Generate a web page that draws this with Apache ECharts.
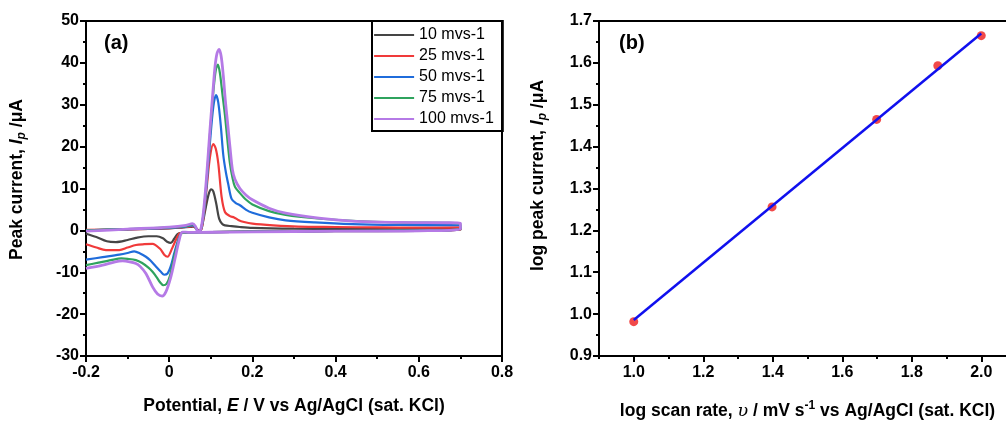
<!DOCTYPE html>
<html><head><meta charset="utf-8">
<script src="https://cdn.jsdelivr.net/npm/echarts@6/dist/echarts.min.js"></script>
<style>html,body{margin:0;padding:0;background:#fff}#c{width:1006px;height:421px}</style>
</head><body><div id="c"></div>
<script>
const legendNames = ['10 mvs-1', '25 mvs-1', '50 mvs-1', '75 mvs-1', '100 mvs-1'];

// CV curves: [potential E (V), current (µA)], forward scan then reverse scan
const cv10 = [[-0.2,0.0],[-0.15,0.1],[-0.1,0.2],[-0.05,0.35],[0.0,0.5],[0.03,0.65],[0.05,0.8],[0.057,0.9],[0.064,0.6],[0.071,0.0],[0.077,0.2],[0.082,2.4],[0.09,6.5],[0.096,9.0],[0.101,9.8],[0.106,9.3],[0.113,6.4],[0.12,2.8],[0.127,1.6],[0.134,1.2],[0.15,1.0],[0.17,0.8],[0.2,0.6],[0.3,0.4],[0.4,0.35],[0.5,0.35],[0.6,0.4],[0.7,0.5],
  [0.7,0.1],[0.6,-0.1],[0.4,-0.2],[0.2,-0.3],[0.1,-0.4],[0.05,-0.5],[0.03,-0.6],[0.02,-0.9],[0.012,-2.0],[0.004,-3.0],[-0.005,-2.7],[-0.015,-1.9],[-0.03,-1.4],[-0.05,-1.4],[-0.08,-1.8],[-0.1,-2.3],[-0.128,-2.8],[-0.15,-2.6],[-0.175,-1.6],[-0.2,-0.8]];
const cv25 = [[-0.2,0.1],[-0.1,0.25],[0.0,0.55],[0.04,0.8],[0.055,1.0],[0.062,0.8],[0.07,0.0],[0.077,0.2],[0.083,3.5],[0.09,10],[0.098,17.5],[0.106,20.6],[0.112,19.5],[0.118,16],[0.126,8],[0.134,4.4],[0.146,3.4],[0.156,3.1],[0.166,2.5],[0.18,2.0],[0.2,1.6],[0.25,1.2],[0.31,0.9],[0.4,0.8],[0.5,0.7],[0.6,0.65],[0.7,0.7],
  [0.7,0.2],[0.6,0.0],[0.4,-0.15],[0.2,-0.3],[0.1,-0.4],[0.05,-0.5],[0.03,-0.6],[0.024,-0.8],[0.015,-2.5],[0.007,-4.3],[-0.004,-6.3],[-0.012,-5.8],[-0.022,-4.4],[-0.04,-3.2],[-0.06,-3.3],[-0.08,-3.5],[-0.1,-4.1],[-0.12,-4.7],[-0.152,-4.7],[-0.175,-4.1],[-0.2,-3.3]];
const cv50 = [[-0.2,0.0],[-0.1,0.3],[0.0,0.6],[0.04,0.9],[0.055,1.2],[0.062,0.9],[0.069,-0.1],[0.076,0.2],[0.083,4],[0.09,11],[0.098,21],[0.106,29.5],[0.1125,32.3],[0.118,30.5],[0.124,25],[0.13,18],[0.136,14],[0.142,11],[0.15,7.5],[0.16,6.5],[0.17,6.0],[0.185,4.9],[0.2,4.2],[0.24,3.1],[0.28,2.4],[0.35,1.9],[0.44,1.5],[0.55,1.3],[0.7,1.2],
  [0.7,0.3],[0.6,0.0],[0.4,-0.15],[0.2,-0.3],[0.1,-0.4],[0.05,-0.5],[0.034,-0.5],[0.028,-0.8],[0.02,-2.8],[0.012,-5.5],[0.004,-8.5],[-0.004,-10.3],[-0.012,-10.6],[-0.02,-9.9],[-0.033,-8.5],[-0.045,-7.2],[-0.056,-6.3],[-0.07,-5.5],[-0.084,-5.0],[-0.1,-5.4],[-0.12,-5.8],[-0.16,-6.4],[-0.2,-7.0]];
const cv75 = [[-0.2,0.0],[-0.1,0.3],[0.0,0.7],[0.04,1.0],[0.055,1.4],[0.062,1.0],[0.069,-0.2],[0.076,0.2],[0.083,4.5],[0.09,12],[0.098,23],[0.106,33],[0.112,38.3],[0.117,39.6],[0.122,37.5],[0.128,32.5],[0.134,27.5],[0.14,21.5],[0.146,16],[0.152,12.6],[0.158,10.4],[0.17,8.9],[0.185,7.3],[0.2,6.2],[0.24,4.6],[0.28,3.7],[0.35,2.9],[0.44,2.3],[0.55,1.9],[0.7,1.6],
  [0.7,0.3],[0.6,0.0],[0.4,-0.15],[0.2,-0.3],[0.1,-0.4],[0.05,-0.5],[0.032,-0.6],[0.026,-1.2],[0.018,-4.0],[0.01,-7.1],[0.002,-10.8],[-0.006,-12.7],[-0.014,-13.1],[-0.022,-12.4],[-0.03,-11.2],[-0.04,-9.9],[-0.05,-8.9],[-0.065,-7.8],[-0.08,-7.1],[-0.1,-6.8],[-0.115,-6.7],[-0.14,-7.1],[-0.17,-7.7],[-0.2,-8.3]];
const cv100 = [[-0.2,-0.2],[-0.1,0.3],[0.0,0.8],[0.04,1.2],[0.056,1.6],[0.063,1.0],[0.069,-0.3],[0.076,0.3],[0.083,5],[0.09,13],[0.098,24],[0.105,33],[0.11,39],[0.115,42.3],[0.12,43.2],[0.125,41.5],[0.13,37],[0.135,31],[0.14,26],[0.146,20],[0.152,14.5],[0.158,12.2],[0.17,10],[0.185,8.4],[0.2,7.3],[0.24,5.3],[0.28,4.1],[0.36,2.9],[0.44,2.2],[0.55,1.9],[0.7,1.7],
  [0.7,0.3],[0.6,-0.1],[0.4,-0.2],[0.2,-0.35],[0.1,-0.45],[0.05,-0.5],[0.032,-0.4],[0.024,-2.3],[0.015,-6.3],[0.004,-11.1],[-0.008,-14.7],[-0.017,-15.7],[-0.028,-15.2],[-0.04,-13.5],[-0.056,-10.3],[-0.07,-8.6],[-0.08,-7.9],[-0.095,-7.5],[-0.112,-7.3],[-0.13,-7.5],[-0.16,-8.3],[-0.2,-9.1]];

// Panel (b)
const logRate = [1.0, 1.398, 1.699, 1.875, 2.0];
const logPeak = [0.982, 1.256, 1.465, 1.593, 1.665];
const fitX = [1.0, 2.0];
const fitY = [0.986, 1.670];
const bMajorTicks = [1.0, 1.2, 1.4, 1.6, 1.8, 2.0];
const bMinorTicks = [0.9, 1.1, 1.3, 1.5, 1.7, 1.9, 2.1];

const cvSeriesData = [cv10, cv25, cv50, cv75, cv100];
const cvColors = ['#454545', '#f03a3a', '#1f6cdb', '#2fa35e', '#b57ae6'];
const cvWidths = [2.2, 2.2, 2.2, 2.2, 2.8];

const FONT = '"Liberation Sans", Arial, sans-serif';
const black = '#000';
const lineS = { color: black, width: 2 };
const tickLab = { color: black, fontWeight: 'bold', fontSize: 16, fontFamily: FONT };
const TF = 17.5;
const richBase = {
  n: { fontSize: TF, fontWeight: 'bold', fontFamily: FONT, color: black, lineHeight: 22 },
  i: { fontSize: TF, fontWeight: 'bold', fontStyle: 'italic', fontFamily: FONT, color: black, lineHeight: 22 },
  s: { fontSize: 12, fontWeight: 'bold', fontStyle: 'italic', fontFamily: FONT, color: black, verticalAlign: 'bottom', lineHeight: 18 },
  sup: { fontSize: 12, fontWeight: 'bold', fontFamily: FONT, color: black, verticalAlign: 'top', lineHeight: 15 },
  u: { fontSize: TF, fontStyle: 'italic', fontFamily: '"DejaVu Serif", serif', color: black, lineHeight: 22 }
};

const chart = echarts.init(document.getElementById('c'), null, { renderer: 'canvas' });

const series = cvSeriesData.map((d, k) => ({
  name: legendNames[k], type: 'line', xAxisIndex: 0, yAxisIndex: 0,
  data: d, symbol: 'none', smooth: 0.3, color: cvColors[k],
  lineStyle: { color: cvColors[k], width: cvWidths[k] }, z: 2 + k
}));
series.push({
  name: 'data', type: 'scatter', xAxisIndex: 1, yAxisIndex: 1,
  data: logRate.map((x, k) => [x, logPeak[k]]), symbol: 'circle', symbolSize: 9,
  itemStyle: { color: '#ee1c1c' }, z: 3
});
series.push({
  name: 'fit', type: 'line', xAxisIndex: 1, yAxisIndex: 1,
  data: fitX.map((x, k) => [x, fitY[k]]), symbol: 'none',
  lineStyle: { color: '#1010ee', width: 2.5 }, z: 4
});

chart.setOption({
  animation: false,
  backgroundColor: '#fff',
  grid: [
    { left: 86, top: 21, width: 416, height: 335, show: true, borderColor: black, borderWidth: 2, backgroundColor: 'transparent', outerBoundsMode: 'none', containLabel: false },
    { left: 599, top: 21, width: 417, height: 335, show: true, borderColor: black, borderWidth: 2, backgroundColor: 'transparent', outerBoundsMode: 'none', containLabel: false }
  ],
  legend: {
    data: legendNames, orient: 'vertical', left: 372, top: 21,
    itemWidth: 40, itemHeight: 16, itemGap: 5,
    padding: [6, 9, 4, 1], borderColor: black, borderWidth: 2,
    itemStyle: { opacity: 0 },
    lineStyle: { width: 2.2 },
    textStyle: { fontSize: 16, color: black, fontFamily: FONT }
  },
  xAxis: [
    {
      gridIndex: 0, type: 'value', min: -0.2, max: 0.8, interval: 0.2, position: 'bottom',
      axisLine: { onZero: false, lineStyle: lineS },
      axisTick: { length: 6, lineStyle: lineS },
      minorTick: { show: true, splitNumber: 2, length: 3, lineStyle: lineS },
      splitLine: { show: false }, minorSplitLine: { show: false },
      axisLabel: Object.assign({ margin: 9 }, tickLab),
      name: '{n|Potential, }{i|E}{n| / V vs Ag/AgCl (sat. KCl)}',
      nameLocation: 'middle', nameGap: 39,
      nameTextStyle: { rich: richBase }
    },
    {
      gridIndex: 1, type: 'value', min: 0.9, max: 2.1, interval: 0.1, position: 'bottom',
      axisLine: { onZero: false, lineStyle: lineS },
      axisTick: { length: 6, lineStyle: lineS, customValues: bMajorTicks },
      splitLine: { show: false },
      axisLabel: Object.assign({ margin: 9, customValues: bMajorTicks, formatter: v => v.toFixed(1) }, tickLab),
      name: '{n|log scan rate, }{u|υ}{n| / mV s}{sup|-1}{n| vs Ag/AgCl (sat. KCl)}',
      nameLocation: 'middle', nameGap: 44,
      nameTextStyle: { rich: richBase }
    },
    {
      gridIndex: 1, type: 'value', min: 0.9, max: 2.1, interval: 0.1, position: 'bottom',
      axisLine: { show: false },
      axisTick: { length: 3, lineStyle: lineS, customValues: bMinorTicks },
      splitLine: { show: false },
      axisLabel: { show: false }
    }
  ],
  yAxis: [
    {
      gridIndex: 0, type: 'value', min: -30, max: 50, interval: 10, position: 'left',
      axisLine: { onZero: false, lineStyle: lineS },
      axisTick: { length: 6, lineStyle: lineS },
      minorTick: { show: true, splitNumber: 2, length: 3, lineStyle: lineS },
      splitLine: { show: false },
      axisLabel: Object.assign({ margin: 7 }, tickLab),
      name: '{n|Peak current, }{i|I}{s|p}{n| /μA}',
      nameLocation: 'middle', nameGap: 58,
      nameTextStyle: { rich: richBase, padding: [0, 0, 0, 18] }
    },
    {
      gridIndex: 1, type: 'value', min: 0.9, max: 1.7, interval: 0.1, position: 'left',
      axisLine: { onZero: false, lineStyle: lineS },
      axisTick: { length: 6, lineStyle: lineS },
      minorTick: { show: true, splitNumber: 2, length: 3, lineStyle: lineS },
      splitLine: { show: false },
      axisLabel: Object.assign({ margin: 7, formatter: v => v.toFixed(1) }, tickLab),
      name: '{n|log peak current, }{i|I}{s|p}{n| /μA}',
      nameLocation: 'middle', nameGap: 50,
      nameTextStyle: { rich: richBase, padding: [0, 0, 0, 26] }
    }
  ],
  graphic: [
    { type: 'text', left: 104, top: 33, style: { text: '(a)', fontSize: 20, fontWeight: 'bold', fontFamily: FONT, fill: black } },
    { type: 'text', left: 619, top: 33, style: { text: '(b)', fontSize: 20, fontWeight: 'bold', fontFamily: FONT, fill: black } }
  ],
  series: series
});
</script>
</body></html>
